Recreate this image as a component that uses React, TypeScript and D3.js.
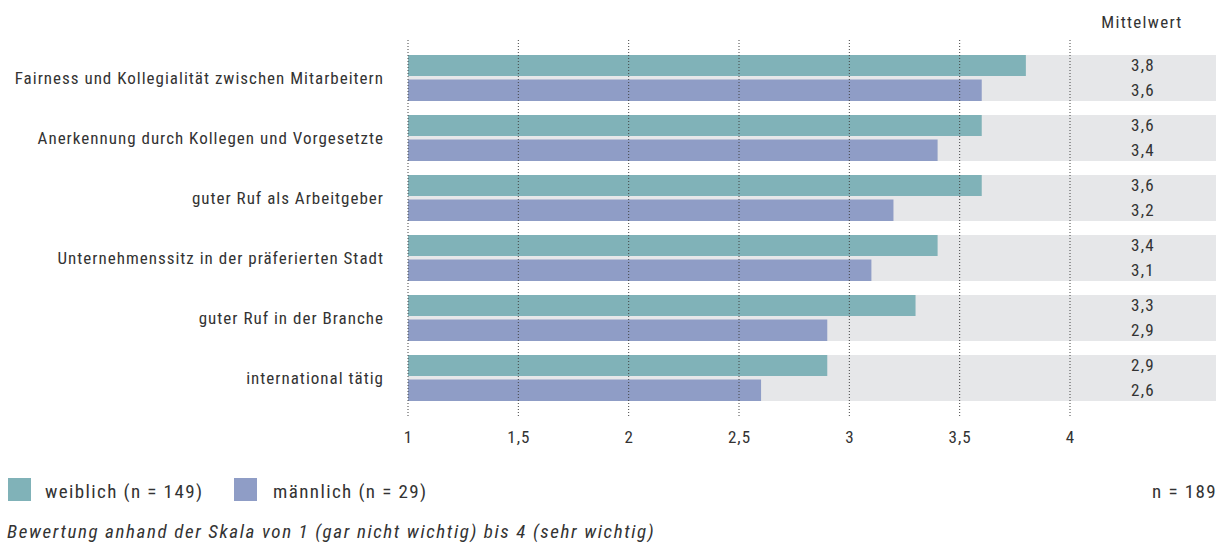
import React from "react";
import * as d3 from "d3";

const categories = [
  "Fairness und Kollegialität zwischen Mitarbeitern",
  "Anerkennung durch Kollegen und Vorgesetzte",
  "guter Ruf als Arbeitgeber",
  "Unternehmenssitz in der präferierten Stadt",
  "guter Ruf in der Branche",
  "international tätig",
];
const weiblich = [3.8, 3.6, 3.6, 3.4, 3.3, 2.9];
const maennlich = [3.6, 3.4, 3.2, 3.1, 2.9, 2.6];
const ticks = [1, 1.5, 2, 2.5, 3, 3.5, 4];
const seriesNames = ["weiblich (n = 149)", "männlich (n = 29)"];
const colors = ["#80b2b8", "#8f9dc6"];
const FONT = "'Roboto Condensed', 'Liberation Sans', sans-serif";
const TEXT = "#333333";

const fmt = (v: number) => String(v).replace(".", ",");

export default function App() {
  const width = 1226;
  const height = 548;
  const x = d3.scaleLinear().domain([1, 4]).range([408, 1070]);
  const y = d3
    .scaleBand<string>()
    .domain(categories)
    .range([55, 401])
    .paddingInner(14 / 60)
    .paddingOuter(0);
  const bw = y.bandwidth();
  const h1 = 21;
  const gap = 3.5;
  const h2 = bw - h1 - gap;

  return (
    <svg
      width={width}
      height={height}
      style={{ position: "absolute", left: 0, top: 0, fontFamily: FONT }}
    >
      <rect x={0} y={0} width={width} height={height} fill="#ffffff" />
      {categories.map((c, i) => {
        const y0 = y(c)!;
        return (
          <g key={c}>
            <rect x={x(1)} y={y0} width={1216 - x(1)} height={bw} fill="#e6e7e9" />
            <rect x={x(1)} y={y0} width={x(weiblich[i]) - x(1)} height={h1} fill={colors[0]} />
            <rect
              x={x(1)}
              y={y0 + h1 + gap}
              width={x(maennlich[i]) - x(1)}
              height={h2}
              fill={colors[1]}
            />
            <text
              x={384}
              y={y0 + bw / 2}
              dy="0.35em"
              textAnchor="end"
              fontSize={17}
              letterSpacing={1}
              fill={TEXT}
            >
              {c}
            </text>
            <text x={1143} y={y0 + h1 / 2} dy="0.35em" textAnchor="middle" fontSize={17} letterSpacing={1.3} fill={TEXT}>
              {fmt(weiblich[i])}
            </text>
            <text
              x={1143}
              y={y0 + h1 + gap + h2 / 2}
              dy="0.35em"
              textAnchor="middle"
              fontSize={17}
              letterSpacing={1.3}
              fill={TEXT}
            >
              {fmt(maennlich[i])}
            </text>
          </g>
        );
      })}
      {ticks.map((t) => (
        <g key={t}>
          <line
            x1={x(t)}
            x2={x(t)}
            y1={40}
            y2={418}
            stroke="#444"
            strokeWidth={1}
            strokeDasharray="1,2"
          />
          <text x={x(t) + 0.5} y={437} dy="0.35em" textAnchor="middle" fontSize={17} letterSpacing={1} fill={TEXT}>
            {fmt(t)}
          </text>
        </g>
      ))}
      <text x={1142} y={22} dy="0.35em" textAnchor="middle" fontSize={17} letterSpacing={1.3} fill={TEXT}>
        Mittelwert
      </text>
      {/* legend */}
      <rect x={8} y={478} width={23} height={23} fill={colors[0]} />
      <text x={45} y={491} dy="0.35em" fontSize={19} letterSpacing={1.4} fill={TEXT}>
        {seriesNames[0]}
      </text>
      <rect x={234} y={478} width={23} height={23} fill={colors[1]} />
      <text x={273} y={491} dy="0.35em" fontSize={19} letterSpacing={1.4} fill={TEXT}>
        {seriesNames[1]}
      </text>
      <text x={1217} y={491} dy="0.35em" textAnchor="end" fontSize={19} letterSpacing={1.4} fill={TEXT}>
        n = 189
      </text>
      <text x={7} y={531} dy="0.35em" fontSize={19} letterSpacing={1.6} fontStyle="italic" fill={TEXT}>
        Bewertung anhand der Skala von 1 (gar nicht wichtig) bis 4 (sehr wichtig)
      </text>
    </svg>
  );
}
